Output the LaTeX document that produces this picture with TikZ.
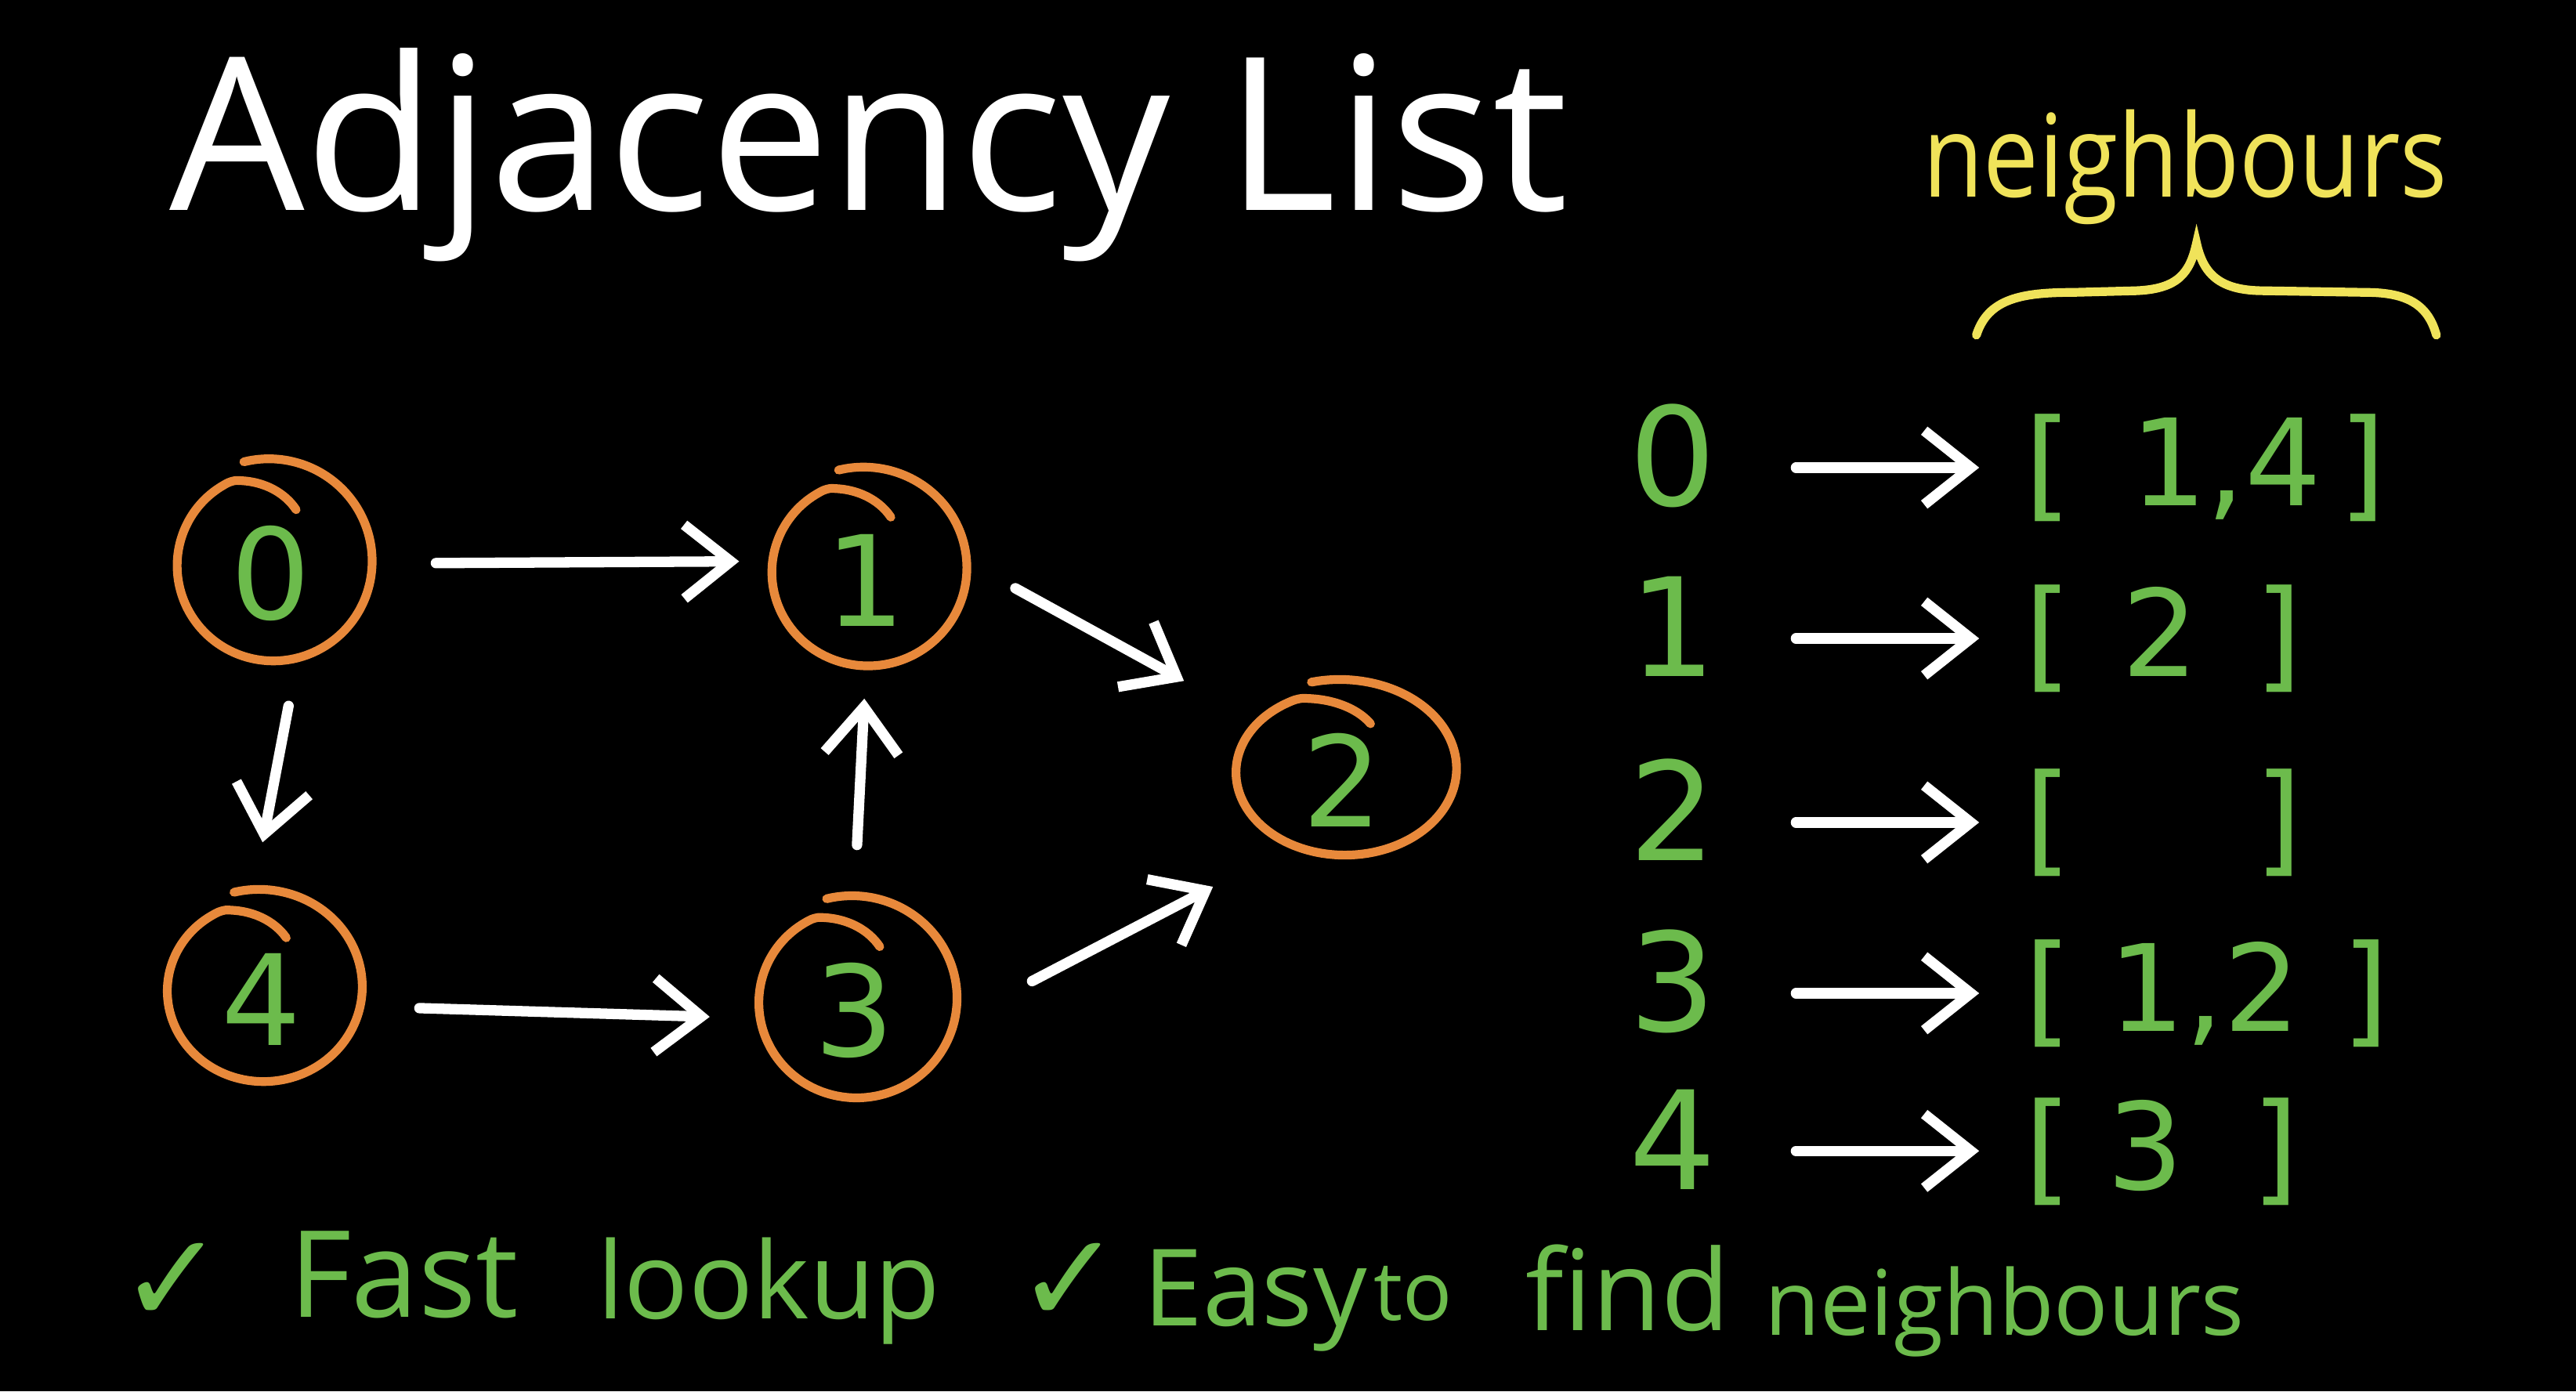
\documentclass[tikz,border=0pt]{standalone}
\usepackage{fontspec}
\setmainfont{Open Sans}
\newfontfamily\dv{DejaVu Sans}
\usetikzlibrary{arrows.meta,shapes.geometric}
\definecolor{grn}{RGB}{108,187,76}
\definecolor{org}{RGB}{232,137,59}
\definecolor{ylw}{RGB}{240,227,90}
\tikzset{
 arr/.style={draw=white, line width=3.8pt, line cap=round, -{Straight Barb[length=17pt,width=27pt]}},
 gnode/.style={ellipse, inner sep=0pt, text=grn, font=\dv\fontsize{46}{46}\selectfont, text height=41pt, text depth=0pt},
 ring/.style={draw=org, line width=3.2pt, line cap=round, line join=round},
 ltxt/.style={inner sep=0pt, text=grn, font=\dv\fontsize{50}{50}\selectfont, text height=36pt, text depth=8pt, anchor=base},
 ctxt/.style={ltxt, font=\dv\fontsize{44}{44}\selectfont},
 btxt/.style={text=grn, inner sep=0pt, anchor=base},
}
\begin{document}
\begin{tikzpicture}[x=0.6pt,y=-0.6pt]
\fill[black] (0,0) rectangle (1568,847);
\useasboundingbox (0,0) rectangle (1568,847);

% title
\node[anchor=base west, inner sep=0pt, text=white, font=\fontsize{78}{80}\selectfont] (title) at (103,128) {Adjacency List};

% neighbours + brace
\node[anchor=base west, inner sep=0pt, text=ylw, font=\fontsize{42}{42}\selectfont] (nb) at (1170,120) {\scalebox{0.86}[1]{neighbours}};
\draw[ylw, line width=3.2pt, line cap=round] (1203,204) .. controls (1210,182) and (1230,178) .. (1262,178) -- (1300,177) .. controls (1326,176) and (1333,166) .. (1337,148) .. controls (1341,166) and (1350,177) .. (1378,177) -- (1440,178) .. controls (1466,178) and (1478,186) .. (1483,204);

% graph nodes
\foreach \n/\cx/\cy/\rx/\ry in {0/165/343/61/61, 1/527/347/61/60, 2/817/469/69/53, 3/520/609/62/61, 4/159/602/61/58} {
  \node[gnode, minimum width={1.2pt*\rx}, minimum height={1.2pt*\ry}] (n\n) at (\cx,\cy) {\n};
  \draw[ring] plot[domain=105:-295, samples=100, smooth]
   ({\cx+\rx*(1.05-0.0004*(105-(\x))-((\x)<(-245))*(-245-(\x))*0.006)*cos(\x)},
    {\cy-\ry*(1.05-0.0004*(105-(\x))-((\x)<(-245))*(-245-(\x))*0.006)*sin(\x)});
}

% graph edges
\draw[arr, shorten <=23.4pt, shorten >=9.6pt] (n0.0) -- (n1.175);
\draw[arr, shorten <=16.8pt, shorten >=19pt] (n0.-75) -- (n4.95);
\draw[arr, shorten <=20pt, shorten >=10.8pt] (n3.90) -- (n1.-90);
\draw[arr, shorten <=20.5pt, shorten >=28pt] (n1.5) -- (n2.150);
\draw[arr, shorten <=21.6pt, shorten >=16pt] (n4.-10) -- (n3.190);
\draw[arr, shorten <=32pt, shorten >=31pt] (n3.-12) -- (n2.235);

% adjacency list
\node[ltxt] (l0) at (1018,308) {0};
\node[ctxt] (ob0) at (1247,308) {[};
\node[ctxt] (c0) at (1355,308) {1,4};
\node[ctxt] (cb0) at (1438,308) {]};

\node[ltxt] (l1) at (1018,412) {1};
\node[ctxt] (ob1) at (1247,412) {[};
\node[ctxt] (c1) at (1315,412) {2};
\node[ctxt] (cb1) at (1387,412) {]};

\node[ltxt] (l2) at (1018,524) {2};
\node[ctxt] (ob2) at (1247,524) {[};
\node[ctxt] (cb2) at (1387,524) {]};

\node[ltxt] (l3) at (1018,628) {3};
\node[ctxt] (ob3) at (1247,628) {[};
\node[ctxt] (c3) at (1342,628) {1,2};
\node[ctxt] (cb3) at (1440,628) {]};

\node[ltxt] (l4) at (1018,724) {4};
\node[ctxt] (ob4) at (1247,724) {[};
\node[ctxt] (c4) at (1306,724) {3};
\node[ctxt] (cb4) at (1385,724) {]};

\foreach \r in {0,...,4} {
  \draw[arr, shorten <=29pt, shorten >=16.6pt] (l\r.east) -- (ob\r.west);
}

% bottom line
\node[btxt, font=\dv\fontsize{46}{46}\selectfont] (ck1) at (105,805) {✓};
\node[btxt, font=\fontsize{44}{44}\selectfont] (w1) at (246,802) {Fast};
\node[btxt, font=\fontsize{39}{39}\selectfont] (w2) at (468,803) {lookup};
\node[btxt, font=\dv\fontsize{46}{46}\selectfont] (ck2) at (651,805) {✓};
\node[btxt, font=\fontsize{39}{39}\selectfont] (w3) at (764,807) {Easy};
\node[btxt, font=\fontsize{30}{30}\selectfont] (w4) at (860,804) {to};
\node[btxt, font=\fontsize{41}{41}\selectfont] (w5) at (991,810) {find};
\node[btxt, font=\fontsize{33}{33}\selectfont] (w6) at (1220,813) {neighbours};
\end{tikzpicture}
\end{document}
